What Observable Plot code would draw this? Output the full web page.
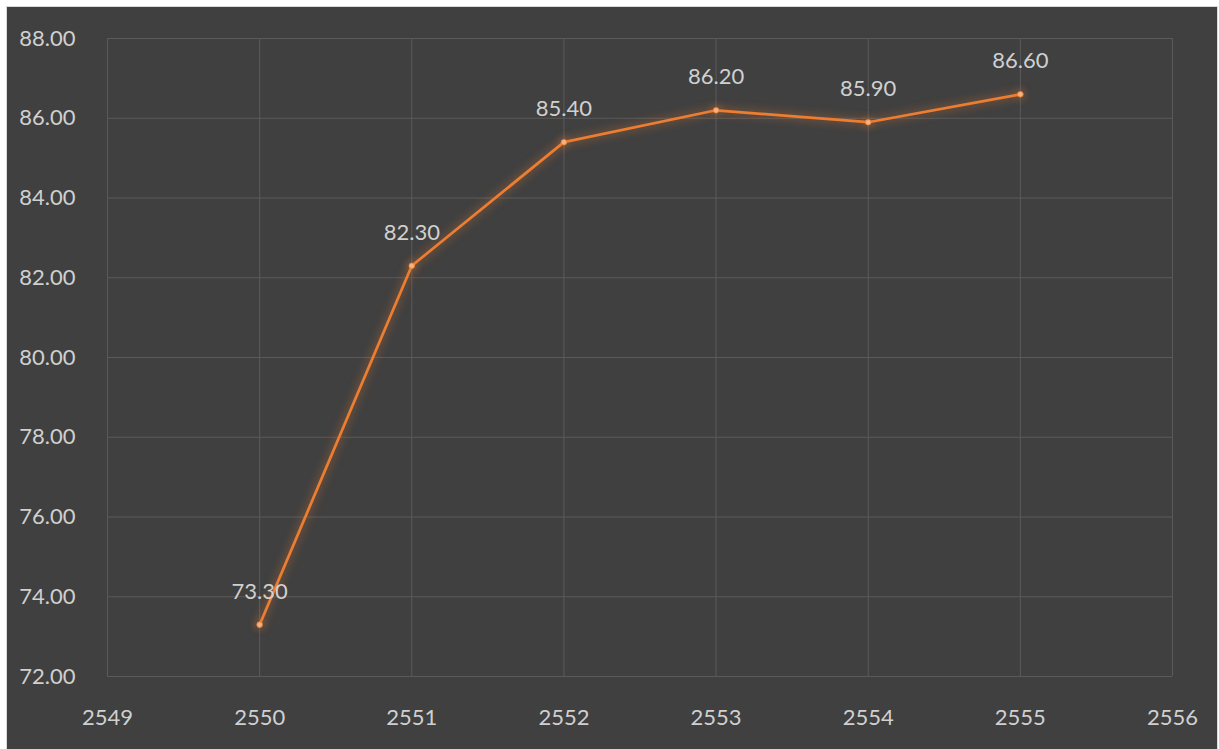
<!DOCTYPE html>
<html>
<head>
<meta charset="utf-8">
<script src="https://cdn.jsdelivr.net/npm/d3@7"></script>
<script src="https://cdn.jsdelivr.net/npm/@observablehq/plot@0.6"></script>
<style>
  html, body { margin: 0; padding: 0; background: #ffffff; }
  #frame {
    position: absolute; left: 6px; top: 6px; width: 1210px; height: 743px;
    background: #404040; border-left: 1px solid #d9d9d9; border-top: 1px solid #d9d9d9;
    border-right: 1px solid #d9d9d9;
  }
  #frame svg { display: block; }
</style>
</head>
<body>
<div id="frame"></div>
<script>
const years = [2550, 2551, 2552, 2553, 2554, 2555];
const values = [73.3, 82.3, 85.4, 86.2, 85.9, 86.6];
const xTicks = [2549, 2550, 2551, 2552, 2553, 2554, 2555, 2556];
const yTicks = [72, 74, 76, 78, 80, 82, 84, 86, 88];

const data = years.map((y, i) => ({year: y, value: values[i]}));
const fmt = d3.format(".2f");
const gridColor = "#5a5a5a";
const textColor = "#d0d0d0";

const chart = Plot.plot({
  width: 1210,
  height: 742,
  marginLeft: 100,
  marginRight: 45,
  marginTop: 31,
  marginBottom: 73,
  style: {background: "transparent", color: textColor, fontFamily: "Lato, 'Open Sans', sans-serif", fontSize: "22px"},
  x: {domain: [2549, 2556], ticks: xTicks, tickFormat: d => String(d), label: null, tickSize: 0, tickPadding: 33},
  y: {domain: [72, 88], ticks: yTicks, tickFormat: fmt, label: null, tickSize: 0, tickPadding: 32},
  marks: [
    Plot.ruleX(xTicks, {stroke: gridColor, strokeWidth: 1}),
    Plot.ruleY(yTicks, {stroke: gridColor, strokeWidth: 1}),
    Plot.line(data, {x: "year", y: "value", stroke: "#ED7D31", strokeWidth: 2.75}),
    Plot.dot(data, {x: "year", y: "value", r: 2.8, fill: "#F4B183", stroke: "#ED7D31", strokeWidth: 0.8}),
    Plot.text(data, {x: "year", y: "value", text: d => fmt(d.value), dy: -33, fill: textColor, fontSize: 22})
  ]
});

const lineG = chart.querySelector('g[aria-label="line"]');
if (lineG) lineG.style.filter = "drop-shadow(0 0 5px rgba(237,125,49,0.7))";
const dotG = chart.querySelector('g[aria-label="dot"]');
if (dotG) dotG.style.filter = "drop-shadow(0 0 4px rgba(237,125,49,0.7))";
document.getElementById("frame").appendChild(chart);
</script>
</body>
</html>
